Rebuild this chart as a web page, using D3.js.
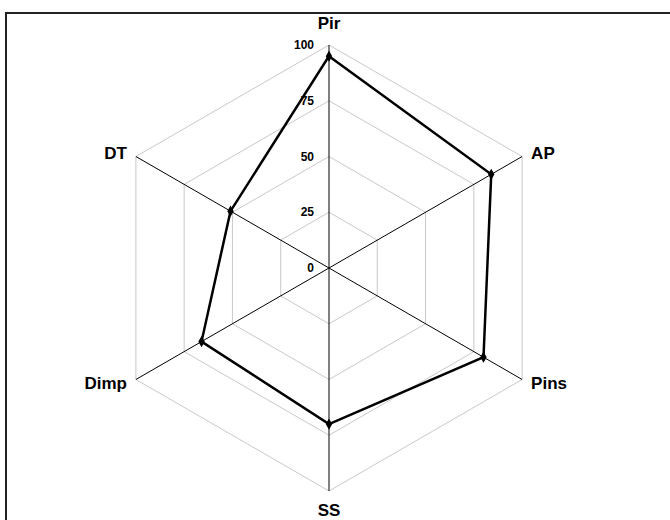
<!DOCTYPE html>
<html>
<head>
    <script type="text/javascript" src="https://cdn.jsdelivr.net/npm/d3@7/dist/d3.min.js" charset="utf-8"></script>
    <style>
        body { margin: 0; background: #fff; }
        text { font-family: "Liberation Sans", Arial, sans-serif; font-weight: bold; }
    </style>
</head>
<body>
    <div id="viz"></div>
    <script type="text/javascript">
    //Chart data
    var axes = ["Pir", "AP", "Pins", "SS", "Dimp", "DT"];
    var values = [95, 84, 80, 70, 66, 51];
    var ticks = [0, 25, 50, 75, 100];

    //Layout
    var width = 670;
    var height = 520;
    var cx = 329;
    var cy = 268;
    var radius = 223;

    var svg = d3.select("#viz")
        .append("svg")
        .attr("width", width)
        .attr("height", height);

    //Outer frame (runs off the right and bottom edge)
    svg.append("rect")
        .attr("x", 6)
        .attr("y", 13)
        .attr("width", 700)
        .attr("height", 560)
        .attr("fill", "none")
        .attr("stroke", "#222")
        .attr("stroke-width", 2);

    var r = d3.scaleLinear().domain([0, 100]).range([0, radius]);
    var angle = d3.scalePoint().domain(axes.concat(["_end"])).range([0, 2 * Math.PI]);

    function point(name, v) {
        var a = angle(name);
        return [cx + r(v) * Math.sin(a), cy - r(v) * Math.cos(a)];
    }

    var g = svg.append("g");

    //Grid polygons
    g.selectAll(".grid")
        .data(ticks.slice(1))
        .enter()
        .append("polygon")
        .attr("points", function(t) {
            return axes.map(function(a) { return point(a, t).join(","); }).join(" ");
        })
        .attr("fill", "none")
        .attr("stroke", "#c8c8c8")
        .attr("stroke-width", 1);

    //Spokes
    g.selectAll(".spoke")
        .data(axes)
        .enter()
        .append("line")
        .attr("x1", cx)
        .attr("y1", cy)
        .attr("x2", function(a) { return point(a, 100)[0]; })
        .attr("y2", function(a) { return point(a, 100)[1]; })
        .attr("stroke", "#000")
        .attr("stroke-width", 1);

    //Tick labels
    g.selectAll(".tick")
        .data(ticks)
        .enter()
        .append("text")
        .attr("x", cx - 15)
        .attr("y", function(t) { return cy - r(t); })
        .attr("dy", "0.35em")
        .attr("text-anchor", "end")
        .attr("font-size", 12)
        .text(function(t) { return t; });

    //Axis labels
    g.selectAll(".label")
        .data(axes)
        .enter()
        .append("text")
        .attr("x", function(a) {
            var p = point(a, 100);
            var s = Math.sin(angle(a));
            return p[0] + (s > 0.1 ? 9 : s < -0.1 ? -9 : 0);
        })
        .attr("y", function(a) {
            var p = point(a, 100);
            var c = Math.cos(angle(a));
            if (c > 0.9) return p[1] - 22;
            if (c < -0.9) return p[1] + 19;
            return p[1] + (c > 0 ? -3 : 4);
        })
        .attr("dy", "0.35em")
        .attr("text-anchor", function(a) {
            var s = Math.sin(angle(a));
            return s > 0.1 ? "start" : s < -0.1 ? "end" : "middle";
        })
        .attr("font-size", 17)
        .text(function(a) { return a; });

    //Data line
    var pts = axes.map(function(a, i) { return point(a, values[i]); });
    g.append("path")
        .attr("d", d3.line().curve(d3.curveLinearClosed)(pts))
        .attr("fill", "none")
        .attr("stroke", "#000")
        .attr("stroke-width", 2.5);

    g.selectAll(".marker")
        .data(pts)
        .enter()
        .append("path")
        .attr("transform", function(p) { return "translate(" + p[0] + "," + p[1] + ")"; })
        .attr("d", d3.symbol().type(d3.symbolDiamond).size(36))
        .attr("fill", "#000");
    </script>
</body>
</html>
